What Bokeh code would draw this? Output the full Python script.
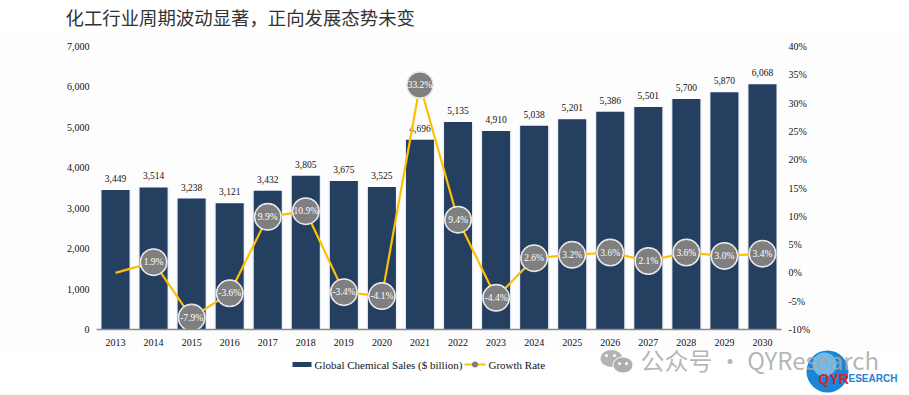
from bokeh.embed import file_html
from bokeh.layouts import column
from bokeh.resources import INLINE
from bokeh.plotting import figure
from bokeh.models import (ColumnDataSource, FactorRange, Range1d, LinearAxis,
                          FixedTicker, CustomJSTickFormatter, NumeralTickFormatter)
from bokeh.core.properties import value

years = ["2013","2014","2015","2016","2017","2018","2019","2020","2021","2022","2023","2024","2025","2026","2027","2028","2029","2030"]
sales = [3449,3514,3238,3121,3432,3805,3675,3525,4696,5135,4910,5038,5201,5386,5501,5700,5870,6068]
growth = [0.0,1.9,-7.9,-3.6,9.9,10.9,-3.4,-4.1,33.2,9.4,-4.4,2.6,3.2,3.6,2.1,3.6,3.0,3.4]
sales_labels = [f"{v:,}" for v in sales]
growth_labels = [f"{v:.1f}%" for v in growth]
left_ticks = [0,1000,2000,3000,4000,5000,6000,7000]
right_ticks = [-10,-5,0,5,10,15,20,25,30,35,40]

TITLE = "化工行业周期波动显著，正向发展态势未变"
LEGEND_BAR = "Global Chemical Sales ($ billion)"
LEGEND_LINE = "Growth Rate"
WATERMARK = "公众号 · QYResearch"
SERIF = "Liberation Serif"
BG = "#fdfdfe"
W, H = 909, 395
TOP, SPLIT = 30, 350
OVERLAP = 10
FL, FT, FR, FB = 96, 46, 781, 329   # frame edges in page pixels


def strip(y0, y1):
    """A band of the page with no axes, whose data units are page pixels."""
    f = figure(width=W, height=y1-y0, output_backend="svg", toolbar_location=None,
               x_range=Range1d(0, W), y_range=Range1d(y1, y0), x_axis_type=None, y_axis_type=None,
               min_border=0, background_fill_color=None, border_fill_color=None, outline_line_color=None)
    f.frame_align = False
    f.xgrid.visible = False
    f.ygrid.visible = False
    return f


# title band
t = strip(0, TOP)
t.text(x=[65], y=[16], text=[TITLE], text_font=value("Noto Sans CJK SC"), text_font_size="18.4px",
       text_color="#333333", text_baseline="middle")

# chart
p = figure(width=W, height=SPLIT-TOP, output_backend="svg", toolbar_location=None,
           x_range=FactorRange(*years, range_padding=0), y_range=Range1d(0, 7000),
           min_border_left=FL, min_border_right=W-FR, min_border_top=FT-TOP, min_border_bottom=SPLIT-FB,
           background_fill_color=BG, border_fill_color=BG, outline_line_color=None)
p.frame_align = False
p.extra_y_ranges = {"pct": Range1d(-10, 40)}
p.xgrid.visible = False
p.ygrid.visible = False

src = ColumnDataSource(dict(x=years, sales=sales, growth=growth, sl=sales_labels, gl=growth_labels))
gsrc = ColumnDataSource(dict(x=years[1:], growth=growth[1:], gl=growth_labels[1:]))

p.vbar(x="x", top="sales", width=0.8, source=src, fill_color="#e9eff7", line_color=None)
p.vbar(x="x", top="sales", width=0.735, source=src, fill_color="#243f60", line_color=None)
p.text(x="x", y="sales", text="sl", source=src, text_font=value(SERIF), text_font_size="9.5px",
       text_color="#111111", text_align="center", text_baseline="bottom", y_offset=-8)
p.line(x="x", y="growth", source=src, y_range_name="pct", line_color="#ffc000", line_width=2.2)
p.scatter(x="x", y="growth", source=gsrc, y_range_name="pct", size=28, fill_color="#e8e8e8", line_color=None)
p.scatter(x="x", y="growth", source=gsrc, y_range_name="pct", size=26, fill_color="#7f7f7f",
          line_color="#f0f0f0", line_width=1)
p.text(x="x", y="growth", text="gl", source=gsrc, y_range_name="pct", text_font=value(SERIF),
       text_font_size="9.5px", text_color="#ffffff", text_align="center", text_baseline="middle")

# axes
ra = LinearAxis(y_range_name="pct", ticker=FixedTicker(ticks=right_ticks),
                formatter=CustomJSTickFormatter(code="return tick + '%';"))
p.add_layout(ra, "right")
xa = p.xaxis[0]
ya = p.yaxis[0]
ya.ticker = FixedTicker(ticks=left_ticks)
ya.formatter = NumeralTickFormatter(format="0,0")
for a in (xa, ya, ra):
    a.major_tick_line_color = None
    a.minor_tick_line_color = None
    a.major_tick_out = 0
    a.major_tick_in = 0
    a.minor_tick_out = 0
    a.minor_tick_in = 0
    a.major_label_text_font = SERIF
    a.major_label_text_font_size = "10px"
    a.major_label_text_color = "#111111"
    a.major_label_standoff = 7
xa.major_label_standoff = 9
ya.axis_line_color = None
ra.axis_line_color = None
xa.axis_line_color = "#8a8a8a"
xa.axis_line_width = 1.5

# band under the chart, lying a little over it: legend and watermark
s = strip(SPLIT-OVERLAP, H)
s.margin = (-OVERLAP, 0, 0, 0)

# legend
s.rect(x=[301.5], y=[364], width=19, height=5, fill_color="#243f60", line_color=None)
s.text(x=[314], y=[364], text=[LEGEND_BAR], text_font=value(SERIF), text_font_size="11px",
       text_color="#111111", text_baseline="middle")
s.line(x=[464, 485], y=[364, 364], line_color="#ffc000", line_width=2)
s.scatter(x=[474.5], y=[364], size=6, fill_color="#7f7f7f", line_color=None)
s.text(x=[488], y=[364], text=[LEGEND_LINE], text_font=value(SERIF), text_font_size="11px",
       text_color="#111111", text_baseline="middle")

# chat-bubble icon
s.ellipse(x=[611], y=[358], width=22, height=17, fill_color="#b4b4b4", line_color=None)
s.ellipse(x=[622.5], y=[364.5], width=20, height=16, fill_color="#adadad", line_color=BG, line_width=1)
s.scatter(x=[606, 614, 619, 626], y=[355, 355, 363, 363], size=3, fill_color=BG, line_color=None)

# logo and watermark
s.scatter(x=[827], y=[371], size=42, fill_color="#1c86d6", line_color=None)
s.scatter(x=[824], y=[364], size=24, fill_color="#6fbcec", line_color=None)
s.text(x=[640], y=[359], text=[WATERMARK], text_font=value("Noto Sans CJK SC"), text_font_size="24px",
       text_color="#a9a9a9", text_alpha=0.85, text_baseline="middle")
s.text(x=[818], y=[378], text=["QYR"], text_font=value("Liberation Sans"), text_font_style="bold",
       text_font_size="14px", text_color="#d8232a", text_baseline="middle")
s.text(x=[848], y=[378], text=["ESEARCH"], text_font=value("Liberation Sans"), text_font_style="bold",
       text_font_size="10px", text_color="#1f7fd0", text_baseline="middle")

open("out.html", "w").write(file_html(column(t, p, s, spacing=0), INLINE))
